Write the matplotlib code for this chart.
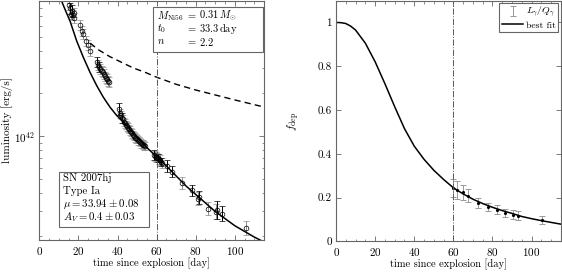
import numpy as np
import matplotlib
matplotlib.use('Agg')
import matplotlib.pyplot as plt
from matplotlib.patches import Rectangle
from matplotlib.ticker import MultipleLocator, NullFormatter

plt.rcParams['font.family'] = 'serif'
plt.rcParams['font.serif'] = ['cmr10']
plt.rcParams['mathtext.fontset'] = 'cm'
plt.rcParams['axes.formatter.use_mathtext'] = True
plt.rcParams['font.size'] = 8

# luminosity points with dark error bars: day, log10 L [erg/s], error in dex
t_dark = [15.7, 16.5, 29.3, 30.4, 41.0, 42.5, 58.5, 60.5, 62.0, 65.1, 67.7, 77.9, 81.8, 91.0, 93.4]
logL_dark = [42.90, 42.88, 42.52, 42.49, 42.19, 42.13, 41.87, 41.845, 41.82, 41.79, 41.75, 41.62,
             41.57, 41.48, 41.455]
err_dark = [0.04, 0.04, 0.035, 0.035, 0.04, 0.035, 0.035, 0.03, 0.03, 0.04, 0.04, 0.04, 0.045,
            0.065, 0.055]

# luminosity points with light error bars
t_light = [15.2, 16.0, 17.0, 17.5, 17.8, 20.8, 21.7, 22.2, 23.9, 25.0, 25.9, 29.8, 31.0, 31.8, 32.4,
           33.0, 33.6, 34.2, 34.7, 35.3, 35.8, 41.5, 42.0, 43.0, 43.5, 44.0, 44.5, 45.0, 45.5, 46.0,
           46.5, 47.0, 47.5, 48.0, 48.5, 49.0, 49.5, 50.0, 50.5, 51.0, 51.5, 52.0, 52.5, 53.0, 53.5,
           54.0, 59.0, 59.5, 60.0, 61.0, 61.5, 62.5, 72.8, 81.3, 86.4, 90.3, 105.6]
logL_light = [42.92, 42.86, 42.85, 42.87, 42.83, 42.78, 42.74, 42.72, 42.67, 42.64, 42.60, 42.50,
              42.47, 42.46, 42.45, 42.44, 42.42, 42.41, 42.40, 42.39, 42.38, 42.16, 42.15, 42.12,
              42.10, 42.09, 42.08, 42.07, 42.06, 42.05, 42.04, 42.03, 42.02, 42.01, 42.00, 41.99,
              41.985, 41.98, 41.97, 41.965, 41.96, 41.95, 41.945, 41.94, 41.935, 41.93, 41.86,
              41.855, 41.85, 41.84, 41.83, 41.81, 41.67, 41.56, 41.49, 41.47, 41.355]
err_light = [0.035] * 21 + [0.03] * 25 + [0.035] * 6 + [0.04, 0.045, 0.045, 0.055, 0.05]

# best fit luminosity (solid) and full deposition (dashed), log10 L
t_fit = [9, 11.4, 13.5, 15.7, 19.1, 22.5, 25.9, 29.3, 32.7, 36.1, 39.5, 44.7, 50, 55, 60, 65, 70,
         75, 80, 85, 90, 95, 100, 105, 110, 115]
logL_fit = [43.05, 42.95, 42.88, 42.81, 42.67, 42.555, 42.45, 42.357, 42.275, 42.205, 42.147,
            42.077, 41.99, 41.92, 41.855, 41.79, 41.72, 41.65, 41.59, 41.53, 41.47, 41.42, 41.37,
            41.33, 41.29, 41.255]
t_full = [26, 30, 36, 42, 48, 54, 60, 70, 80, 90, 100, 115]
logL_full = [42.655, 42.61, 42.56, 42.52, 42.48, 42.45, 42.415, 42.365, 42.325, 42.29, 42.255, 42.205]

# deposition fraction
t_dep = [60.0, 61.7, 65.1, 67.7, 72.8, 77.9, 82.2, 86.4, 90.7, 93.2, 105.2]
f_dep = [0.244, 0.236, 0.224, 0.209, 0.175, 0.157, 0.145, 0.13, 0.122, 0.117, 0.099]
f_err = [0.04, 0.04, 0.035, 0.03, 0.022, 0.02, 0.02, 0.018, 0.02, 0.02, 0.018]

t_fdep_fit = [0, 2.5, 5, 7.5, 10, 15, 20, 25, 30, 35, 40, 45, 50, 55, 60, 65, 70, 75, 80, 85, 90,
              95, 100, 105, 110, 115]
fdep_fit = [1.0, 0.999, 0.995, 0.983, 0.965, 0.905, 0.82, 0.72, 0.615, 0.515, 0.435, 0.375, 0.325,
            0.283, 0.245, 0.217, 0.193, 0.173, 0.156, 0.141, 0.128, 0.114, 0.104, 0.095, 0.087,
            0.079]

fit_names = ['$M_{\\rm Ni56}$', '$t_0$', '$n$']
fit_values = ['$0.31\\,M_{\\odot}$', '$33.3\\,$day', '$2.2$']
sn_info = ['SN 2007hj', 'Type Ia', '$\\mu = 33.94 \\pm 0.08$', '$A_V = 0.4 \\pm 0.03$']

t_cut = 60
frame = '0.4'

fig = plt.figure(figsize=(5.62, 2.75), dpi=100)
ax1 = fig.add_axes([0.070, 0.126, 0.400, 0.872])
ax2 = fig.add_axes([0.598, 0.122, 0.400, 0.876])


def lum_errbar(ax, t, logL, err, color):
    logL = np.array(logL)
    err = np.array(err)
    L = 10 ** logL
    yerr = [L - 10 ** (logL - err), 10 ** (logL + err) - L]
    ax.errorbar(t, L, yerr=yerr, fmt='o', ms=3.4, mfc='none', mec='k', mew=0.5,
                ecolor=color, elinewidth=0.7, capsize=1.9, capthick=0.7)


lum_errbar(ax1, t_light, logL_light, err_light, '0.55')
lum_errbar(ax1, t_dark, logL_dark, err_dark, 'k')
ax1.plot(t_fit, 10 ** np.array(logL_fit), 'k-', lw=1.1)
ax1.plot(t_full, 10 ** np.array(logL_full), 'k--', lw=1.0, dashes=(4.5, 3))
ax1.axvline(t_cut, color='0.35', lw=0.7, ls='-.')

ax1.set_yscale('log')
ax1.set_xlim(0, 115)
ax1.set_ylim(1.85e41, 9e42)
ax1.yaxis.set_minor_formatter(NullFormatter())
ax1.set_xlabel('time since explosion [day]', labelpad=1, fontsize=7.5)
ax1.set_ylabel('luminosity [erg/s]', labelpad=1)

# fit parameter box
ax1.add_patch(Rectangle((0.506, 0.785), 0.489, 0.187, transform=ax1.transAxes,
                        fc='white', ec=frame, lw=0.8, zorder=5))
for i in range(len(fit_names)):
    y = 0.937 - i * 0.054
    ax1.text(0.522, y, fit_names[i], transform=ax1.transAxes, va='center', ha='left',
             fontsize=7.5, zorder=6)
    ax1.text(0.652, y, '$=$', transform=ax1.transAxes, va='center', ha='left',
             fontsize=7.5, zorder=6)
    ax1.text(0.712, y, fit_values[i], transform=ax1.transAxes, va='center', ha='left',
             fontsize=7.5, zorder=6)

# supernova info box
ax1.add_patch(Rectangle((0.089, 0.055), 0.401, 0.232, transform=ax1.transAxes,
                        fc='white', ec=frame, lw=0.8, zorder=5))
for i in range(len(sn_info)):
    ax1.text(0.107, 0.258 - i * 0.053, sn_info[i], transform=ax1.transAxes, va='center',
             ha='left', fontsize=7.8, zorder=6)

eb = ax2.errorbar(t_dep, f_dep, yerr=f_err, fmt='none', ecolor='0.6', elinewidth=0.7,
                  capsize=2.2, capthick=0.7)
ax2.plot(t_dep, f_dep, 'k.', ms=2.5)
ln, = ax2.plot(t_fdep_fit, fdep_fit, 'k-', lw=1.1)
ax2.axvline(t_cut, color='0.35', lw=0.7, ls='-.')
ax2.set_xlim(0, 115)
ax2.set_ylim(0, 1.1)
ax2.set_yticks([0, 0.2, 0.4, 0.6, 0.8, 1.0])
ax2.set_yticklabels(['0', '0.2', '0.4', '0.6', '0.8', '1'])
ax2.set_xlabel('time since explosion [day]', labelpad=1, fontsize=7.5)
ax2.set_ylabel('$f_{\\rm dep}$', labelpad=11)
leg = ax2.legend([eb, ln], ['$L_{\\gamma}/Q_{\\gamma}$', 'best fit'], loc='upper right',
                 fontsize=7, fancybox=False, edgecolor=frame, borderaxespad=0.25,
                 handlelength=2.2, borderpad=0.25, labelspacing=0.15, handletextpad=0.3,
                 framealpha=1)
leg.get_frame().set_linewidth(0.8)

for ax in (ax1, ax2):
    ax.xaxis.set_major_locator(MultipleLocator(20))
    ax.xaxis.set_minor_locator(MultipleLocator(5))
    ax.tick_params(which='both', direction='in', top=True, right=True, color=frame, pad=3)
    ax.tick_params(which='major', length=3.5, width=0.6)
    ax.tick_params(which='minor', length=1.8, width=0.5)
    for s in ax.spines.values():
        s.set_color(frame)
        s.set_linewidth(0.8)

fig.savefig('out.png', dpi=100)
